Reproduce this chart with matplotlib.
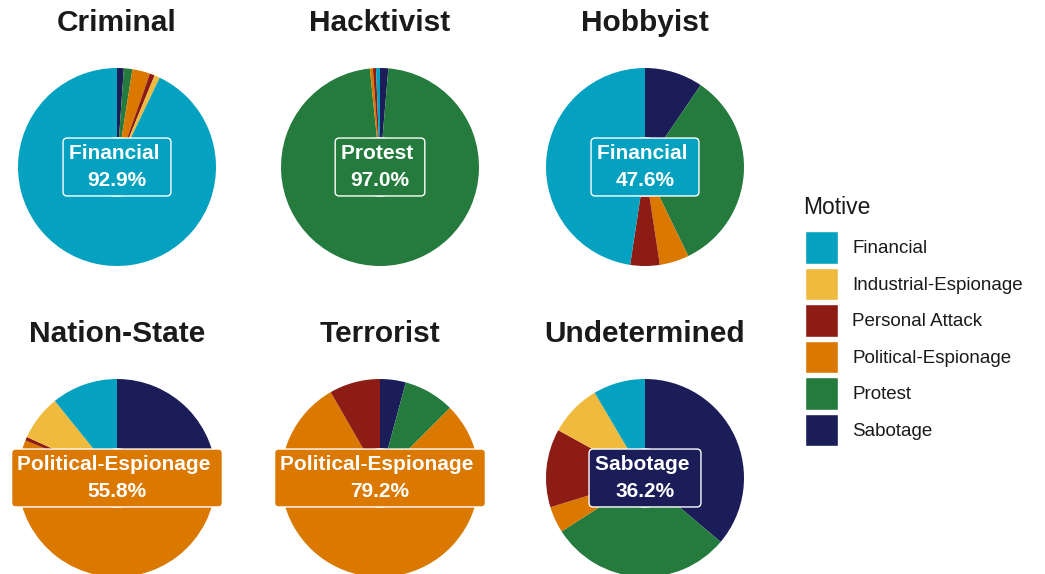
import matplotlib.pyplot as plt
from matplotlib.patches import Patch

plt.rcParams['font.family'] = ['Liberation Sans', 'DejaVu Sans']

motives = ['Financial', 'Industrial-Espionage', 'Personal Attack',
           'Political-Espionage', 'Protest', 'Sabotage']
colors = ['#04A2C0', '#EFBA3E', '#8D1C14', '#DA7800', '#257B3D', '#1B1D58']

actors = ['Criminal', 'Hacktivist', 'Hobbyist',
          'Nation-State', 'Terrorist', 'Undetermined']

# percent share of each motive per actor (same order as motives)
criminal = [92.9, 0.9, 0.8, 2.9, 1.4, 1.1]
hacktivist = [0.65, 0.0, 0.5, 0.5, 97.0, 1.35]
hobbyist = [47.6, 0.0, 4.8, 4.8, 33.3, 9.5]
nation_state = [10.8, 7.4, 0.6, 55.8, 0.0, 25.4]
terrorist = [0.0, 0.0, 8.3, 79.2, 8.3, 4.2]
undetermined = [8.5, 8.5, 12.8, 4.3, 29.8, 36.2]
shares = [criminal, hacktivist, hobbyist, nation_state, terrorist, undetermined]

W, H = 1045, 574
fig = plt.figure(figsize=(W / 100, H / 100), dpi=100)

cx = [117, 380, 645]
cy = [167, 478]
title_base = [31, 342]
R = 99
half = R * 1.03

for i, (name, vals) in enumerate(zip(actors, shares)):
    x0 = cx[i % 3]
    y0 = cy[i // 3]
    ax = fig.add_axes([(x0 - half) / W, (H - y0 - half) / H, 2 * half / W, 2 * half / H])
    # ggplot stacking: last level first, clockwise from 12 o'clock
    v = vals[::-1]
    c = colors[::-1]
    ax.pie(v, colors=c, startangle=90, counterclock=False, radius=1,
           wedgeprops=dict(width=0.7, linewidth=0))
    ax.set_xlim(-1.03, 1.03)
    ax.set_ylim(-1.03, 1.03)
    ax.axis('off')
    for p in ax.patches:
        p.set_clip_on(False)

    k = max(range(len(vals)), key=lambda j: vals[j])
    ax.text(0, 0, f'{motives[k]} \n{vals[k]:.1f}%', ha='center', va='center',
            color='white', fontsize=15, fontweight='bold', linespacing=1.55,
            bbox=dict(boxstyle='round,pad=0.28,rounding_size=0.2',
                      facecolor=colors[k], edgecolor='white', linewidth=1))

    fig.text(x0 / W, 1 - title_base[i // 3] / H, name, ha='center', va='baseline',
             fontsize=21.5, fontweight='bold', color='#1a1a1a')

# legend title drawn separately so the gap to the keys matches
fig.text(803 / W, 1 - 207 / H, 'Motive', ha='left', va='center',
         fontsize=16.5, color='#1a1a1a')
handles = [Patch(facecolor=c, edgecolor='white', linewidth=1) for c in colors]
leg = fig.legend(handles, motives, loc='upper left',
                 bbox_to_anchor=(805 / W, 1 - 231 / H), frameon=False,
                 fontsize=13.5, handlelength=1.76,
                 handleheight=2.3, labelspacing=0.21, handletextpad=0.75,
                 borderpad=0, borderaxespad=0)
for t in leg.get_texts():
    t.set_color('#1a1a1a')

fig.savefig('out.png', dpi=100)
